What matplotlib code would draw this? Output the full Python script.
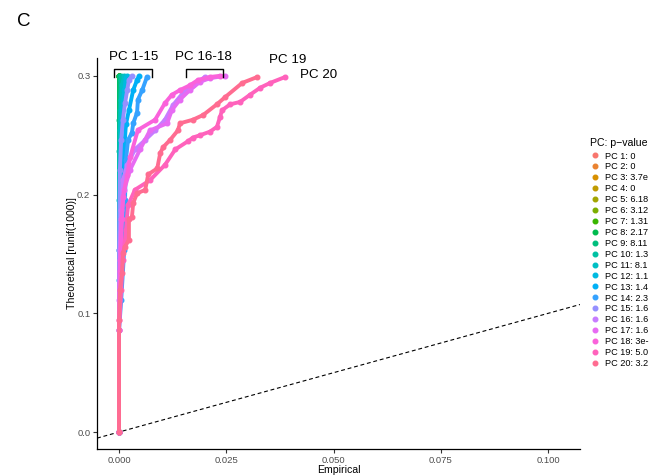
# JackStraw style QQ plot of PC significance (empirical vs theoretical p-values).

import numpy as np
import matplotlib
matplotlib.use("Agg")
import matplotlib.pyplot as plt
from matplotlib.lines import Line2D

plt.rcParams['font.family'] = ['Liberation Sans', 'DejaVu Sans']

# ggplot hue palette for 20 levels
pc_colors = [
    "#F8766D", "#EA8331", "#D89000", "#C09B00", "#A3A500", "#7CAE00", "#39B600",
    "#00BB4E", "#00BF7D", "#00C1A3", "#00BFC4", "#00BAE0", "#00B0F6", "#35A2FF",
    "#9590FF", "#C77CFF", "#E76BF3", "#FA62DB", "#FF62BC", "#FF6C91",
]

# legend labels as far as they are visible (the reference cuts them at the edge)
legend_labels = [
    "PC 1: 0", "PC 2: 0", "PC 3: 3.7e", "PC 4: 0", "PC 5: 6.18",
    "PC 6: 3.12", "PC 7: 1.31", "PC 8: 2.17", "PC 9: 8.11",
    "PC 10: 1.3", "PC 11: 8.1", "PC 12: 1.1", "PC 13: 1.4",
    "PC 14: 2.3", "PC 15: 1.6", "PC 16: 1.6", "PC 17: 1.6",
    "PC 18: 3e-", "PC 19: 5.0", "PC 20: 3.2",
]

# empirical / theoretical values (PC 1-8 sit on x = 0)
empirical = {i: [0, 0] for i in range(1, 9)}
theoretical = {i: [0, 0.3] for i in range(1, 9)}

empirical[9] = [0, 0, 0.0001]
theoretical[9] = [0, 0.263, 0.300]
empirical[10] = [0, 0, 0.0002, 0.0005, 0.0005]
theoretical[10] = [0, 0.237, 0.271, 0.2965, 0.300]
empirical[11] = [0, 0, 0.0002, 0.0005, 0.0007, 0.0012]
theoretical[11] = [0, 0.1955, 0.2544, 0.280, 0.292, 0.300]
empirical[12] = [0, 0, 0.0002, 0.0005, 0.0007, 0.0012, 0.0016, 0.0019]
theoretical[12] = [0, 0.153, 0.212, 0.246, 0.271, 0.288, 0.298, 0.300]
empirical[13] = [0, 0, 0.0005, 0.0007, 0.0012, 0.0016, 0.0023, 0.0033, 0.0042, 0.0047]
theoretical[13] = [0, 0.128, 0.179, 0.212, 0.238, 0.259, 0.271, 0.288, 0.2965, 0.300]
empirical[14] = [0, 0, 0.0005, 0.0012, 0.0014, 0.0016, 0.0021, 0.0030, 0.0033,
                 0.0042, 0.0044, 0.0054, 0.0065]
theoretical[14] = [0, 0.086, 0.111, 0.153, 0.1955, 0.229, 0.246, 0.252, 0.260,
                   0.269, 0.280, 0.288, 0.299]
empirical[15] = [0, 0, 0.0002, 0.0005, 0.0009, 0.0014, 0.0019, 0.0023, 0.0030]
theoretical[15] = [0, 0.153, 0.221, 0.246, 0.263, 0.277, 0.288, 0.2965, 0.300]
empirical[16] = [0, 0, 0.0002, 0.0005, 0.0009, 0.0019, 0.0037, 0.0061, 0.0084,
                 0.0107, 0.0126, 0.0149, 0.0172, 0.0200]
theoretical[16] = [0, 0.111, 0.153, 0.187, 0.212, 0.225, 0.238, 0.246, 0.254,
                   0.263, 0.2755, 0.2856, 0.292, 0.299]
empirical[17] = [0, 0, 0.0002, 0.0005, 0.0012, 0.0026, 0.0049, 0.0072, 0.0112,
                 0.0123, 0.0142, 0.0165, 0.0189, 0.0212, 0.0247]
theoretical[17] = [0, 0.094, 0.145, 0.179, 0.204, 0.221, 0.238, 0.254, 0.260,
                   0.271, 0.280, 0.288, 0.295, 0.298, 0.300]
empirical[18] = [0, 0, 0.0002, 0.0007, 0.0009, 0.0019, 0.0026, 0.0044, 0.0084,
                 0.0107, 0.0123, 0.0142, 0.0165, 0.0184, 0.0212, 0.0235]
theoretical[18] = [0, 0.086, 0.136, 0.179, 0.198, 0.2165, 0.2317, 0.2544, 0.263,
                   0.277, 0.284, 0.288, 0.292, 0.2965, 0.299, 0.300]
empirical[19] = [0, 0, 0.0005, 0.0009, 0.0016, 0.0021, 0.0037, 0.0072, 0.0107,
                 0.0131, 0.0161, 0.0172, 0.0189, 0.0212, 0.0228, 0.0235, 0.0240,
                 0.0259, 0.0282, 0.0305, 0.0329, 0.0352, 0.0387]
theoretical[19] = [0, 0.086, 0.120, 0.145, 0.170, 0.191, 0.204, 0.212, 0.225,
                   0.238, 0.245, 0.248, 0.250, 0.253, 0.257, 0.265, 0.271,
                   0.276, 0.278, 0.284, 0.290, 0.294, 0.299]
empirical[20] = [0, 0, 0.0002, 0.0007, 0.0009, 0.0014, 0.0023, 0.0023, 0.0030,
                 0.0033, 0.0042, 0.0061, 0.0068, 0.0089, 0.0096, 0.0103, 0.0119,
                 0.0137, 0.0142, 0.0172, 0.0196, 0.0228, 0.0247, 0.0287, 0.0322]
theoretical[20] = [0, 0.094, 0.120, 0.134, 0.151, 0.156, 0.162, 0.179, 0.181,
                   0.193, 0.201, 0.204, 0.217, 0.222, 0.235, 0.240, 0.246,
                   0.254, 0.260, 0.263, 0.267, 0.276, 0.282, 0.294, 0.299]

x_ticks = [0.000, 0.025, 0.050, 0.075, 0.100]
y_ticks = [0.0, 0.1, 0.2, 0.3]

fig = plt.figure(figsize=(6.49, 4.75), dpi=100)
ax = fig.add_axes([0.1495, 0.0547, 0.7442, 0.8232])

for pc in range(1, 21):
    ax.plot(empirical[pc], theoretical[pc], '-o', color=pc_colors[pc - 1],
            lw=2.8, ms=3.3, solid_capstyle='round', solid_joinstyle='round',
            zorder=2)

ax.axline((0, 0), slope=1, ls=(0, (3.5, 2.5)), color='black', lw=0.8, zorder=1)

ax.set_xlim(-0.00513, 0.1074)
ax.set_ylim(-0.0143, 0.315)
ax.set_xticks(x_ticks)
ax.set_xticklabels([f"{v:.3f}" for v in x_ticks])
ax.set_yticks(y_ticks)
ax.set_yticklabels([f"{v:.1f}" for v in y_ticks])
ax.tick_params(labelsize=6.8, length=2.8, width=0.8, colors='#333333',
               labelcolor='#4d4d4d', pad=2)
for side in ('top', 'right'):
    ax.spines[side].set_visible(False)
for side in ('left', 'bottom'):
    ax.spines[side].set_linewidth(0.9)
ax.set_xlabel("Empirical", fontsize=7.6, labelpad=0)
ax.set_ylabel("Theoretical [runif(1000)]", fontsize=7.6, labelpad=0)

# brackets and labels above the curves
bracket_kw = dict(color='black', lw=1.0, clip_on=False)
for x0, x1 in [(-0.0012, 0.0076), (0.0156, 0.0242)]:
    ax.plot([x0, x0, x1, x1], [0.299, 0.306, 0.306, 0.299], **bracket_kw)
ax.text(0.0033, 0.316, "PC 1-15", fontsize=9.6, ha='center', va='center')
ax.text(0.0196, 0.316, "PC 16-18", fontsize=9.6, ha='center', va='center')
ax.text(0.0393, 0.3133, "PC 19", fontsize=9.6, ha='center', va='center')
ax.text(0.0466, 0.3008, "PC 20", fontsize=9.6, ha='center', va='center')

handles = [Line2D([], [], ls='none', marker='o', ms=3.3, color=c) for c in pc_colors]
fig.text(590 / 649, 1 - 143 / 475, "PC: p\u2212value", fontsize=7.6,
         ha='left', va='center')
fig.legend(handles, legend_labels, loc='upper left',
           bbox_to_anchor=(0.9097, 0.681), frameon=False, fontsize=6.6,
           labelspacing=0.21, handlelength=1.0, handletextpad=0.59,
           borderpad=0, borderaxespad=0)

fig.text(0.026, 0.954, "C", fontsize=13.5, ha='left', va='center')

fig.savefig("out.png", dpi=100)
